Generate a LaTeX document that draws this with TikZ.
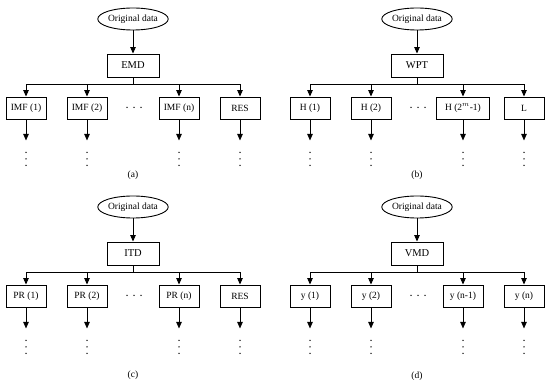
\documentclass[tikz,border=0pt]{standalone}
\usepackage{fontspec}
\setmainfont{Liberation Serif}
\usetikzlibrary{calc, positioning}
\usetikzlibrary{arrows.meta}
\usetikzlibrary{shapes.geometric}

\tikzset{
  src/.style={draw, ellipse, line width=0.9pt, minimum width=63pt, minimum height=22pt, inner sep=0pt},
  method/.style={draw, rectangle, line width=0.9pt, minimum width=52pt, minimum height=23pt, inner sep=0pt, font=\fontsize{10.5}{12}\selectfont},
  leaf/.style={draw, rectangle, line width=0.9pt, minimum width=40pt, minimum height=22pt, inner sep=0pt},
  wideleaf/.style={leaf, minimum width=53pt},
  link/.style={line width=0.9pt, -{Triangle[width=5.5pt,length=6.5pt]}},
  wire/.style={line width=0.9pt},
}

\begin{document}
\begin{tikzpicture}[x=1pt, y=-1pt, font=\fontsize{9.5}{11}\selectfont]
\useasboundingbox (0,0) rectangle (550,382);

% one tree per panel: shift, label height, texts
\foreach \dx/\dy/\ly/\tag/\meth/\la/\lb/\lc/\ld/\cstyle in {
  0/0/175/a/EMD/{IMF (1)}/{IMF (2)}/{IMF (n)}/RES/leaf,
  284/0/175/b/WPT/{H (1)}/{H (2)}/{H (2$^{m}$-1)}/L/wideleaf,
  0/188/187/c/ITD/{PR (1)}/{PR (2)}/{PR (n)}/RES/leaf,
  284/188/188/d/VMD/{y (1)}/{y (2)}/{y (n-1)}/{y (n)}/leaf} {
\begin{scope}[shift={(\dx,\dy)}]
  \node[src] (src-\tag) at (133,19) {Original data};
  \node[method] (dec-\tag) at (133,65.5) {\meth};
  \coordinate (bus-\tag) at (133,84.5);

  \node[leaf] (c1-\tag) at (26,108) {\la};
  \node[leaf] (c2-\tag) at (87,108) {\lb};
  \node[\cstyle] (c3-\tag) at (179,108) {\lc};
  \node[leaf] (c4-\tag) at (240,108) {\ld};
  \coordinate (mid-\tag) at (134,107.5);

  \draw[link] (src-\tag) -- (dec-\tag);
  \draw[wire] (dec-\tag) -- (bus-\tag);
  \draw[wire] (c1-\tag |- bus-\tag) -- (c4-\tag |- bus-\tag);

  \foreach \i in {1,...,4} {
    \coordinate[below=21pt of c\i-\tag.south] (e\i-\tag);
    \draw[link] (c\i-\tag |- bus-\tag) -- (c\i-\tag);
    \draw[link] (c\i-\tag) -- (e\i-\tag);
    \foreach \k in {0,1,2}
      \fill ($(e\i-\tag)+(0,12+6.5*\k)$) circle (0.75pt);
  }

  \foreach \k in {-1,0,1}
    \fill ($(mid-\tag)+(7*\k,0)$) circle (0.75pt);

  \node (lab-\tag) at (133,\ly) {(\tag)};
\end{scope}
}

\end{tikzpicture}
\end{document}
